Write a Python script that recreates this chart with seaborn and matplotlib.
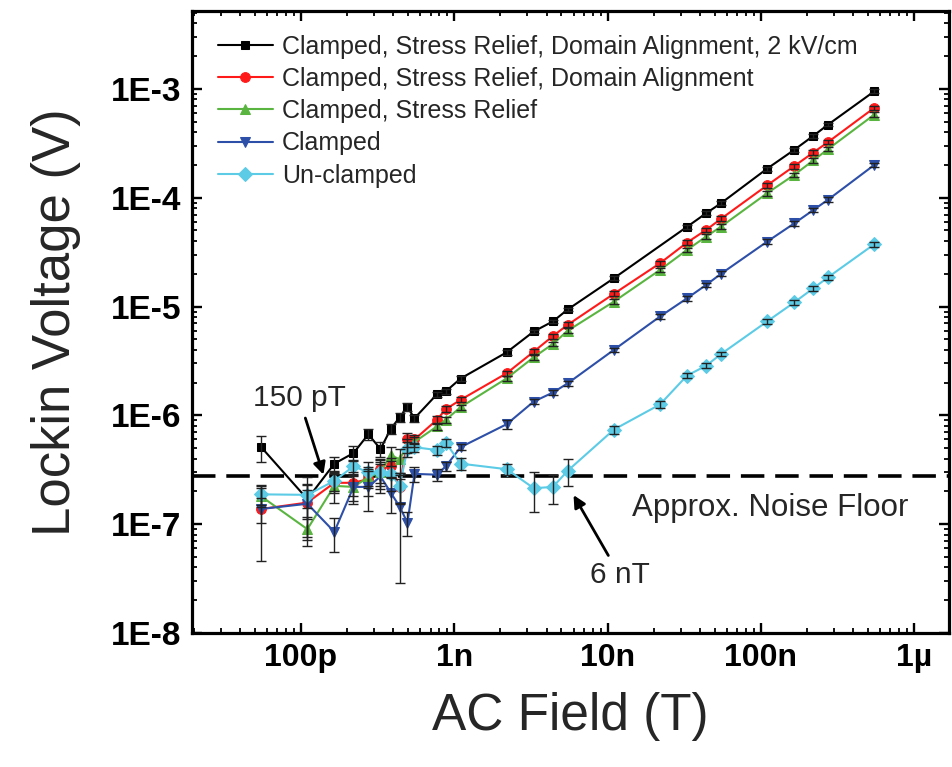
import matplotlib
matplotlib.use('Agg')
import matplotlib.pyplot as plt
import numpy as np
import pandas as pd
import seaborn as sns

# AC field values (T)
field = [55e-12, 110e-12, 165e-12, 220e-12, 275e-12, 330e-12, 385e-12, 440e-12,
         495e-12, 550e-12, 770e-12, 880e-12, 1.1e-9, 2.2e-9, 3.3e-9, 4.4e-9,
         5.5e-9, 11e-9, 22e-9, 33e-9, 44e-9, 55e-9, 110e-9, 165e-9, 220e-9,
         275e-9, 550e-9]
field_black = [55e-12, 110e-12, 165e-12, 220e-12, 275e-12, 330e-12, 385e-12, 440e-12,
               495e-12, 550e-12, 770e-12, 880e-12, 1.1e-9, 2.2e-9, 3.3e-9, 4.4e-9,
               5.5e-9, 11e-9, 33e-9, 44e-9, 55e-9, 110e-9, 165e-9, 220e-9,
               275e-9, 550e-9]

# lockin voltage (V)
v_black = [5.1e-7, 1.7e-7, 3.6e-7, 4.5e-7, 6.7e-7, 4.9e-7, 7.5e-7, 9.6e-7, 1.19e-6,
           9.4e-7, 1.56e-6, 1.66e-6, 2.18e-6, 3.8e-6, 5.9e-6, 7.3e-6, 9.4e-6,
           1.82e-5, 5.4e-5, 7.2e-5, 8.9e-5, 1.85e-4, 2.75e-4, 3.7e-4, 4.7e-4, 9.5e-4]
v_red = [1.38e-7, 1.58e-7, 2.4e-7, 2.4e-7, 2.6e-7, 3.2e-7, 3.4e-7, 2.2e-7, 6.0e-7,
         6.0e-7, 9.1e-7, 1.14e-6, 1.39e-6, 2.44e-6, 3.85e-6, 5.35e-6, 6.8e-6,
         1.31e-5, 2.5e-5, 3.87e-5, 5.06e-5, 6.4e-5, 1.3e-4, 1.95e-4, 2.6e-4,
         3.25e-4, 6.7e-4]
v_green = [1.8e-7, 9e-8, 2.25e-7, 2.2e-7, 2.7e-7, 3.0e-7, 4.3e-7, 3.95e-7, 5.3e-7,
           5.7e-7, 7.9e-7, 9.1e-7, 1.19e-6, 2.19e-6, 3.42e-6, 4.53e-6, 6.0e-6,
           1.11e-5, 2.17e-5, 3.31e-5, 4.4e-5, 5.42e-5, 1.1e-4, 1.62e-4, 2.2e-4,
           2.8e-4, 5.8e-4]
v_blue = [1.38e-7, 1.54e-7, 8.5e-8, 2.2e-7, 2.2e-7, 2.75e-7, 1.95e-7, 1.45e-7, 1.03e-7,
          2.9e-7, 2.85e-7, 3.4e-7, 5.1e-7, 8.3e-7, 1.34e-6, 1.62e-6, 1.97e-6,
          4.0e-6, 8.1e-6, 1.19e-5, 1.58e-5, 2.0e-5, 3.95e-5, 5.8e-5, 7.7e-5,
          9.6e-5, 2.0e-4]
v_cyan = [1.88e-7, 1.86e-7, 2.5e-7, 3.4e-7, 3.0e-7, 3.0e-7, 2.9e-7, 2.25e-7, 4.9e-7,
          5.1e-7, 4.8e-7, 5.6e-7, 3.6e-7, 3.2e-7, 2.14e-7, 2.2e-7, 3.1e-7,
          7.4e-7, 1.26e-6, 2.32e-6, 2.86e-6, 3.66e-6, 7.3e-6, 1.09e-5, 1.47e-5,
          1.86e-5, 3.74e-5]

# relative error bars
e_black = [0.27, 0.58, 0.15, 0.15, 0.12, 0.15, 0.1, 0.1, 0.08, 0.08, 0.06, 0.06, 0.05,
           0.05, 0.04, 0.04, 0.04, 0.04, 0.04, 0.04, 0.04, 0.04, 0.04, 0.04, 0.04, 0.04]
e_red = [0.25, 0.3, 0.2, 0.25, 0.3, 0.25, 0.2, 0.3, 0.15, 0.1, 0.08, 0.06, 0.05, 0.05,
         0.05, 0.05, 0.05, 0.05, 0.05, 0.05, 0.05, 0.05, 0.05, 0.05, 0.05, 0.05, 0.05]
e_green = [0.2, 0.3, 0.3, 0.25, 0.2, 0.25, 0.2, 0.25, 0.15, 0.1, 0.08, 0.06, 0.05, 0.05,
           0.05, 0.05, 0.05, 0.05, 0.05, 0.05, 0.05, 0.05, 0.05, 0.05, 0.05, 0.05, 0.05]
e_blue = [0.67, 0.5, 0.35, 0.3, 0.4, 0.3, 0.35, 0.8, 0.25, 0.15, 0.12, 0.1, 0.06, 0.1,
          0.06, 0.05, 0.05, 0.05, 0.05, 0.05, 0.05, 0.05, 0.05, 0.05, 0.05, 0.05, 0.05]
e_cyan = [0.2, 0.25, 0.2, 0.15, 0.25, 0.3, 0.3, 0.3, 0.15, 0.1, 0.1, 0.08, 0.12, 0.12,
          0.4, 0.3, 0.28, 0.08, 0.07, 0.05, 0.05, 0.05, 0.05, 0.05, 0.05, 0.05, 0.05]

labels = ['Clamped, Stress Relief, Domain Alignment, 2 kV/cm',
          'Clamped, Stress Relief, Domain Alignment',
          'Clamped, Stress Relief',
          'Clamped',
          'Un-clamped']
colors = ['#000000', '#ff1a1a', '#5ab540', '#2d4fa8', '#5ccbe6']
markers = ['s', 'o', '^', 'v', 'D']

noise_floor = 2.8e-7

sns.set_theme(style='ticks')
plt.rcParams['font.family'] = ['Liberation Sans', 'DejaVu Sans']

fig = plt.figure(figsize=(9.53, 7.67), dpi=100)
ax = fig.add_axes([0.2015, 0.1747, 0.7943, 0.8110])

series = [(field_black, v_black, e_black), (field, v_red, e_red),
          (field, v_green, e_green), (field, v_blue, e_blue),
          (field, v_cyan, e_cyan)]

for (xs, ys, es), lab, col, mk in zip(series, labels, colors, markers):
    df = pd.DataFrame({'field': xs, 'volt': ys})
    sns.lineplot(data=df, x='field', y='volt', ax=ax, color=col, marker=mk,
                 markersize=7 if mk != 's' else 6, markeredgecolor=col,
                 linewidth=1.5, label=lab, zorder=2)
    yerr = np.array(ys) * np.array(es)
    ax.errorbar(xs, ys, yerr=yerr, fmt='none', ecolor='#222222', elinewidth=1,
                capsize=3.5, capthick=1, zorder=3)

ax.axhline(noise_floor, color='black', lw=2.6, linestyle=(0, (6.5, 3)), zorder=1)

ax.set_xscale('log')
ax.set_yscale('log')
ax.set_xlim(1.945e-11, 1.69e-6)
ax.set_ylim(1e-8, 5.2e-3)

ax.set_xticks([1e-10, 1e-9, 1e-8, 1e-7, 1e-6])
ax.set_xticklabels(['100p', '1n', '10n', '100n', '1\u00b5'])
ax.set_yticks([1e-8, 1e-7, 1e-6, 1e-5, 1e-4, 1e-3])
ax.set_yticklabels(['1E-8', '1E-7', '1E-6', '1E-5', '1E-4', '1E-3'])
ax.xaxis.set_minor_locator(matplotlib.ticker.LogLocator(base=10, subs=np.arange(2, 10), numticks=20))
ax.yaxis.set_minor_locator(matplotlib.ticker.LogLocator(base=10, subs=np.arange(2, 10), numticks=20))
ax.xaxis.set_minor_formatter(matplotlib.ticker.NullFormatter())
ax.yaxis.set_minor_formatter(matplotlib.ticker.NullFormatter())

ax.tick_params(which='both', direction='in', top=True, right=True, colors='black')
ax.tick_params(which='major', length=7.5, width=1.7)
ax.tick_params(which='minor', length=3.8, width=1.3)
ax.tick_params(axis='x', which='major', pad=7, labelsize=23)
ax.tick_params(axis='y', which='major', pad=8, labelsize=24)
for t in ax.get_xticklabels() + ax.get_yticklabels():
    t.set_fontweight('bold')
for s in ax.spines.values():
    s.set_linewidth(2.3)
    s.set_color('black')

ax.set_xlabel('AC Field (T)', fontsize=37, labelpad=14)
ax.set_ylabel('Lockin Voltage (V)', fontsize=38, labelpad=21)

ax.annotate('150 pT', xy=(1.4e-10, 2.85e-7), xytext=(9.7e-11, 1.44e-6),
            fontsize=21.5, ha='center', va='center',
            arrowprops=dict(arrowstyle='-|>', color='black', lw=2, mutation_scale=18,
                            shrinkA=2, shrinkB=0))
ax.annotate('6 nT', xy=(6e-9, 1.85e-7), xytext=(1.2e-8, 3.4e-8),
            fontsize=21.5, ha='center', va='center',
            arrowprops=dict(arrowstyle='-|>', color='black', lw=2, mutation_scale=18,
                            shrinkA=2, shrinkB=0))
ax.text(1.45e-8, 1.42e-7, 'Approx. Noise Floor', fontsize=22.5, ha='left', va='center')

ax.legend(loc='upper left', bbox_to_anchor=(0.0343, 0.962), frameon=False,
          fontsize=18, handlelength=2.2, handletextpad=0.37, labelspacing=0.33,
          borderaxespad=0, borderpad=0)

fig.savefig('out.png', dpi=100, facecolor='white')
